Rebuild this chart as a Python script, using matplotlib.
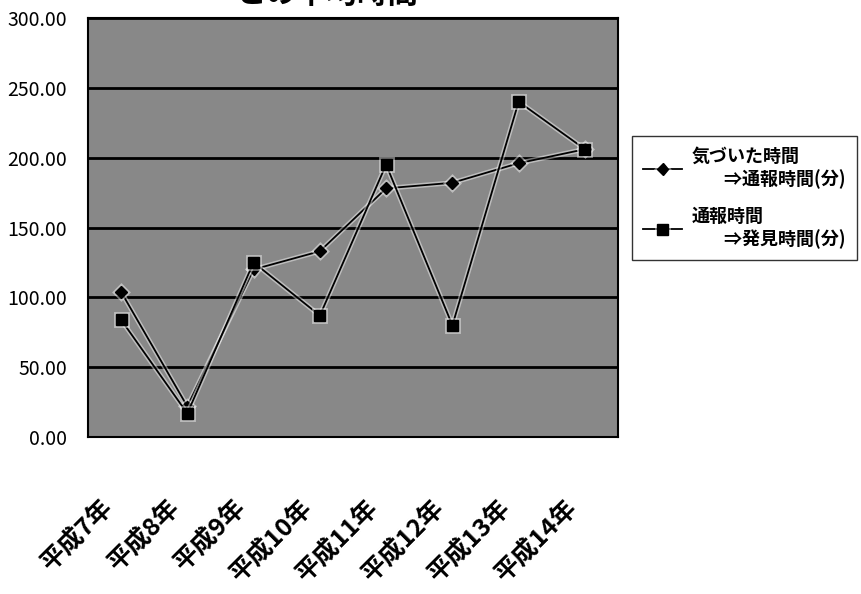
import matplotlib
matplotlib.use("Agg")
import matplotlib.pyplot as plt
import matplotlib.patheffects as pe
import matplotlib.transforms as mtransforms
import numpy as np

plt.rcParams['font.family'] = ['Noto Sans CJK JP', 'DejaVu Sans']

# データ
categories = ['平成7年', '平成8年', '平成9年', '平成10年',
              '平成11年', '平成12年', '平成13年', '平成14年']
notice_to_report = [104, 22, 120, 133, 178, 182, 196, 206]
report_to_found = [84, 17, 125, 87, 195, 80, 240, 206]
yticks = [0, 50, 100, 150, 200, 250, 300]

fig = plt.figure(figsize=(8.62, 5.94), dpi=100)
ax = fig.add_axes([0.102, 0.264, 0.615, 0.706])

ax.set_facecolor('#888888')

x = np.arange(len(categories))
glow = [pe.Stroke(linewidth=3.5, foreground='white', alpha=0.45), pe.Normal()]
ax.plot(x, notice_to_report, color='black', lw=1.3, marker='D', ms=6,
        label='気づいた時間\n        ⇒通報時間(分)', path_effects=glow, zorder=3)
ax.plot(x, report_to_found, color='black', lw=1.3, marker='s', ms=8,
        label='通報時間\n        ⇒発見時間(分)', path_effects=glow, zorder=3)

ax.set_xlim(-0.5, len(categories) - 0.5)
ax.set_ylim(0, 300)
ax.set_yticks(yticks)
ax.set_yticklabels([f'{v:.2f}' for v in yticks], fontsize=14)
ax.yaxis.grid(True, color='black', lw=2)
ax.set_axisbelow(True)
ax.tick_params(axis='y', length=0, pad=15)

ax.set_xticks(x)
ax.set_xticklabels(categories, rotation=45, ha='right', va='top',
                   fontsize=18, fontweight='bold', rotation_mode='anchor')
ax.tick_params(axis='x', length=0, pad=42)
# ラベルを少し左へずらす
shift = mtransforms.ScaledTranslation(-0.2, 0, fig.dpi_scale_trans)
for lbl in ax.get_xticklabels():
    lbl.set_transform(lbl.get_transform() + shift)

for s in ax.spines.values():
    s.set_color('black')
    s.set_linewidth(1.5)

fig.text(0.38, 1.01, 'との平均時間', ha='center', va='center',
         fontsize=22, fontweight='bold')

leg = fig.legend(loc='upper left', bbox_to_anchor=(0.733, 0.771),
                 borderaxespad=0, fontsize=13, frameon=True, fancybox=False,
                 handlelength=2.2, borderpad=0.6, labelspacing=1.0,
                 handletextpad=0.5)
leg.get_frame().set_edgecolor('black')
leg.get_frame().set_linewidth(1.0)
for t in leg.get_texts():
    t.set_fontweight('bold')

fig.savefig('out.png', dpi=100)
